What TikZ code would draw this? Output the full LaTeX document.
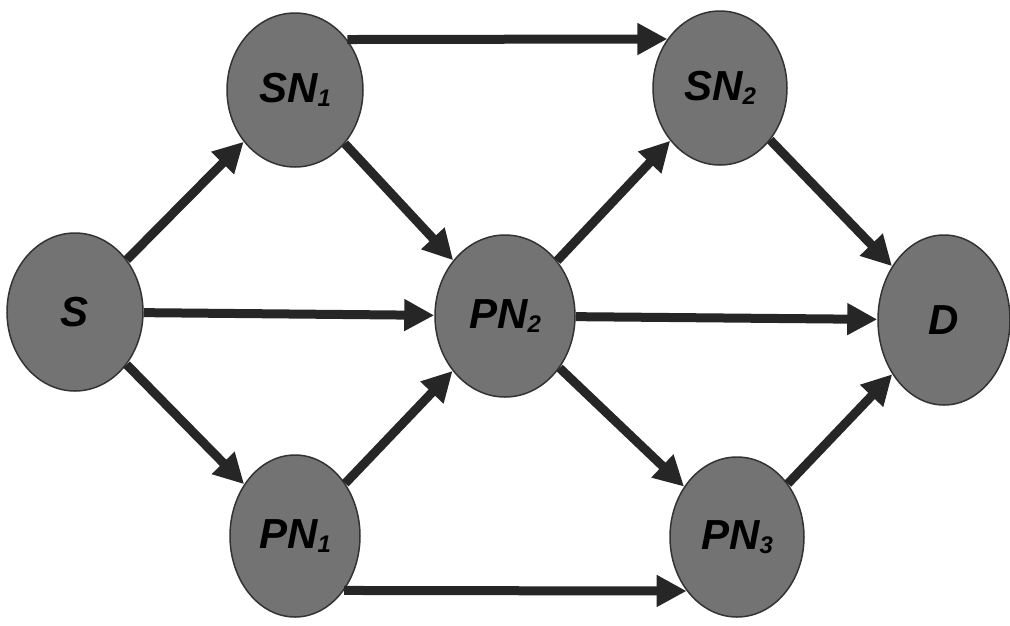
\documentclass[tikz,border=0pt]{standalone}
\usepackage{fontspec}
\setmainfont{Liberation Sans}
\usetikzlibrary{shapes.geometric,arrows.meta}

\newcommand{\nsub}[1]{\raisebox{-4pt}{\fontsize{24}{24}\selectfont #1}}

\begin{document}
\begin{tikzpicture}[x=1pt, y=-1pt,
  netnode/.style={ellipse, fill=black!55, draw=black!80, line width=1.5pt, inner sep=0pt,
    font=\fontsize{42}{42}\selectfont\bfseries\itshape},
  arr/.style={draw=black!85, line width=9pt, -{Triangle[length=30pt,width=30pt]}}]
\useasboundingbox (0,0) rectangle (1010,625);
% nodes
\node[netnode, minimum width=136pt, minimum height=158pt] (S)   at (75,312)  {S};
\node[netnode, minimum width=136pt, minimum height=154pt] (SN1) at (295,90)  {SN\nsub{1}};
\node[netnode, minimum width=134pt, minimum height=154pt] (SN2) at (720,88)  {SN\nsub{2}};
\node[netnode, minimum width=140pt, minimum height=162pt] (PN2) at (505,316) {PN\nsub{2}};
\node[netnode, minimum width=132pt, minimum height=170pt] (D)   at (944,320) {D};
\node[netnode, minimum width=130pt, minimum height=162pt] (PN1) at (295,536) {PN\nsub{1}};
\node[netnode, minimum width=134pt, minimum height=160pt] (PN3) at (737,537) {PN\nsub{3}};
% links
\foreach \a/\b in {S/SN1, S/PN2, S/PN1, SN1/PN2, PN1/PN2, PN2/SN2, PN2/D, PN2/PN3, SN2/D, PN3/D} {
  \draw[arr] (\a) -- (\b);
}
\draw[arr] (SN1.44) -- (SN2.137);
\draw[arr] (PN1.-48) -- (PN3.-133);
\end{tikzpicture}
\end{document}
